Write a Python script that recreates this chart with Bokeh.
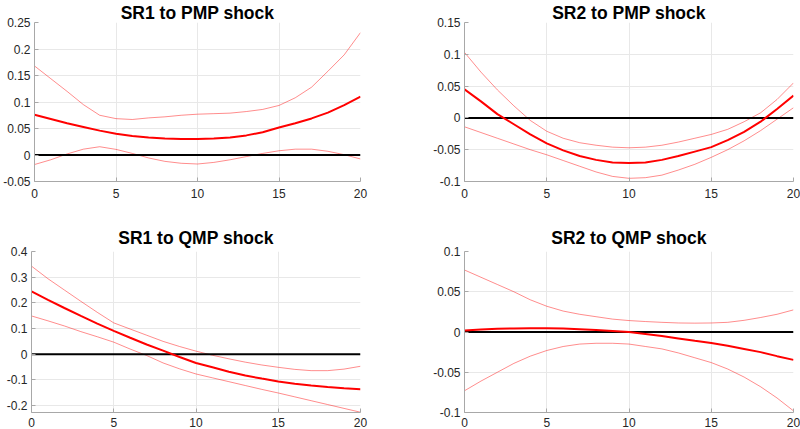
from bokeh.plotting import figure
from bokeh.layouts import column, row
from bokeh.models import FixedTicker, Range1d
from bokeh.embed import file_html
from bokeh.resources import INLINE

# Forecast horizon (periods after the shock)
horizon = [0, 1, 2, 3, 4, 5, 6, 7, 8, 9, 10, 11, 12, 13, 14, 15, 16, 17, 18, 19, 20]

# SR1 response to PMP shock: median and error bands
sr1_pmp_median = [0.076, 0.068, 0.060, 0.053, 0.046, 0.040, 0.036, 0.033, 0.031, 0.030, 0.030,
                  0.031, 0.033, 0.037, 0.043, 0.052, 0.060, 0.069, 0.080, 0.094, 0.110]
sr1_pmp_upper = [0.168, 0.144, 0.120, 0.095, 0.075, 0.0686, 0.067, 0.070, 0.072, 0.075, 0.077,
                 0.078, 0.079, 0.082, 0.086, 0.0935, 0.108, 0.128, 0.158, 0.189, 0.231]
sr1_pmp_lower = [-0.018, -0.009, 0.002, 0.011, 0.0156, 0.0106, 0.003, -0.0056, -0.012, -0.0156, -0.017,
                 -0.014, -0.009, -0.003, 0.003, 0.008, 0.011, 0.011, 0.007, 0.0006, -0.0075]

# SR2 response to PMP shock
sr2_pmp_median = [0.045, 0.026, 0.006, -0.010, -0.026, -0.040, -0.051, -0.060, -0.066, -0.070, -0.071,
                  -0.070, -0.066, -0.060, -0.053, -0.046, -0.035, -0.022, -0.006, 0.014, 0.035]
sr2_pmp_upper = [0.103, 0.072, 0.044, 0.019, -0.004, -0.021, -0.032, -0.039, -0.043, -0.046, -0.047,
                 -0.046, -0.043, -0.038, -0.032, -0.026, -0.018, -0.006, 0.008, 0.029, 0.055]
sr2_pmp_lower = [-0.014, -0.023, -0.032, -0.041, -0.050, -0.058, -0.067, -0.076, -0.085, -0.092, -0.095,
                 -0.094, -0.090, -0.082, -0.073, -0.062, -0.050, -0.036, -0.020, -0.002, 0.016]

# SR1 response to QMP shock
sr1_qmp_median = [0.245, 0.212, 0.180, 0.149, 0.119, 0.091, 0.064, 0.038, 0.014, -0.011, -0.034,
                  -0.051, -0.068, -0.083, -0.095, -0.106, -0.115, -0.122, -0.128, -0.133, -0.136]
sr1_qmp_upper = [0.343, 0.294, 0.250, 0.206, 0.163, 0.122, 0.098, 0.074, 0.050, 0.030, 0.012,
                 -0.004, -0.018, -0.031, -0.042, -0.051, -0.059, -0.064, -0.064, -0.058, -0.047]
sr1_qmp_lower = [0.149, 0.130, 0.110, 0.088, 0.068, 0.047, 0.020, -0.005, -0.034, -0.057, -0.077,
                 -0.092, -0.107, -0.122, -0.137, -0.151, -0.166, -0.181, -0.196, -0.211, -0.226]

# SR2 response to QMP shock
sr2_qmp_median = [0.002, 0.003, 0.004, 0.0045, 0.0048, 0.0046, 0.0042, 0.0035, 0.0025, 0.0013, 0.0,
                  -0.0025, -0.005, -0.008, -0.011, -0.0137, -0.017, -0.021, -0.025, -0.030, -0.0346]
sr2_qmp_upper = [0.077, 0.068, 0.059, 0.050, 0.040, 0.032, 0.026, 0.022, 0.019, 0.016, 0.0142,
                 0.013, 0.012, 0.0112, 0.011, 0.0112, 0.012, 0.0145, 0.018, 0.022, 0.0275]
sr2_qmp_lower = [-0.073, -0.061, -0.050, -0.039, -0.030, -0.023, -0.018, -0.015, -0.014, -0.014, -0.015,
                 -0.018, -0.021, -0.026, -0.032, -0.038, -0.046, -0.056, -0.068, -0.082, -0.098]

zero_line = [0.0] * len(horizon)

# Tick positions and labels
x_ticks = [0, 5, 10, 15, 20]
x_tick_labels = ["0", "5", "10", "15", "20"]

sr1_pmp_yticks = [-0.05, 0, 0.05, 0.1, 0.15, 0.2, 0.25]
sr1_pmp_ylabels = ["-0.05", "0", "0.05", "0.1", "0.15", "0.2", "0.25"]
sr2_pmp_yticks = [-0.1, -0.05, 0, 0.05, 0.1, 0.15]
sr2_pmp_ylabels = ["-0.1", "-0.05", "0", "0.05", "0.1", "0.15"]
sr1_qmp_yticks = [-0.2, -0.1, 0, 0.1, 0.2, 0.3, 0.4]
sr1_qmp_ylabels = ["-0.2", "-0.1", "0", "0.1", "0.2", "0.3", "0.4"]
sr2_qmp_yticks = [-0.1, -0.05, 0, 0.05, 0.1]
sr2_qmp_ylabels = ["-0.1", "-0.05", "0", "0.05", "0.1"]

FONT = "Liberation Sans"
AXIS_COLOR = "#a8a8a8"
GRID_COLOR = "#e8e8e8"
TICK_TEXT = "#262626"


def panel(title, med, up, lo, y_lo, y_hi, yticks, ylabels,
          width, height, left, right, top, bottom, x_standoff, t_standoff):
    p = figure(width=width, height=height,
               x_range=Range1d(horizon[0], horizon[-1]), y_range=Range1d(y_lo, y_hi),
               output_backend="svg", toolbar_location=None,
               min_border_left=left, min_border_right=right,
               min_border_top=top, min_border_bottom=bottom)
    p.title.text = title
    p.title.align = "center"
    p.title.text_font = FONT
    p.title.text_font_size = "17.5px"
    p.title.text_font_style = "bold"
    p.title.text_color = "#000000"
    p.title.standoff = t_standoff
    p.outline_line_color = None
    p.background_fill_color = "white"
    p.border_fill_color = "white"

    p.xaxis.ticker = FixedTicker(ticks=x_ticks)
    p.xaxis.major_label_overrides = dict(zip(x_ticks, x_tick_labels))
    p.yaxis.ticker = FixedTicker(ticks=yticks)
    p.yaxis.major_label_overrides = dict(zip(yticks, ylabels))
    for ax in (p.xaxis, p.yaxis):
        ax.axis_line_color = AXIS_COLOR
        ax.major_tick_line_color = AXIS_COLOR
        ax.major_tick_in = 4
        ax.major_tick_out = 0
        ax.minor_tick_line_color = None
        ax.major_label_text_font = FONT
        ax.major_label_text_font_size = "12px"
        ax.major_label_text_color = TICK_TEXT
        ax.major_label_standoff = 4
    p.xaxis.major_label_standoff = x_standoff
    p.xgrid.grid_line_color = GRID_COLOR
    p.ygrid.grid_line_color = GRID_COLOR

    # error bands, zero reference, then the median response on top
    p.line(horizon, up, line_color="#ff0000", line_alpha=0.45, line_width=1)
    p.line(horizon, lo, line_color="#ff0000", line_alpha=0.45, line_width=1)
    p.line(horizon, zero_line, line_color="#000000", line_width=2)
    p.line(horizon, med, line_color="#ff0000", line_width=2)
    return p


p1 = panel("SR1 to PMP shock", sr1_pmp_median, sr1_pmp_upper, sr1_pmp_lower,
           -0.05, 0.25, sr1_pmp_yticks, sr1_pmp_ylabels, 400, 215, 31, 40, 21, 34, 7, 0)
p2 = panel("SR2 to PMP shock", sr2_pmp_median, sr2_pmp_upper, sr2_pmp_lower,
           -0.1, 0.15, sr2_pmp_yticks, sr2_pmp_ylabels, 400, 215, 64, 7, 21, 34, 7, 0)
p3 = panel("SR1 to QMP shock", sr1_qmp_median, sr1_qmp_upper, sr1_qmp_lower,
           -0.227, 0.4, sr1_qmp_yticks, sr1_qmp_ylabels, 400, 214, 31, 40, 36, 17, 5, 7)
p4 = panel("SR2 to QMP shock", sr2_qmp_median, sr2_qmp_upper, sr2_qmp_lower,
           -0.1, 0.1, sr2_qmp_yticks, sr2_qmp_ylabels, 400, 214, 64, 7, 36, 17, 5, 7)

layout = column(row(p1, p2), row(p3, p4))

open("out.html", "w").write(file_html(layout, INLINE))
